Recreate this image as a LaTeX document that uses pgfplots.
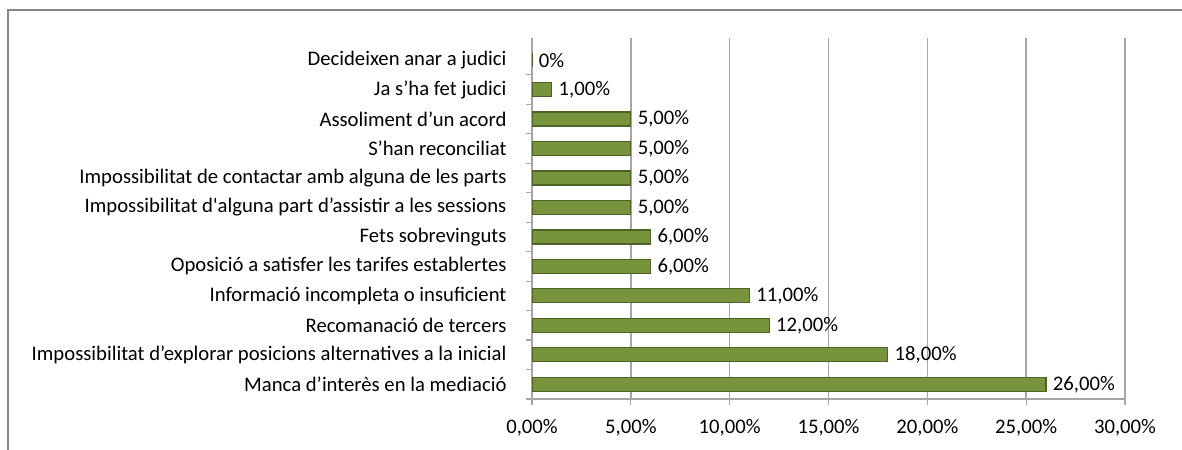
\documentclass[border=0pt]{standalone}
\usepackage{pgfplots}
\pgfplotsset{compat=1.18}
\usepackage{fontspec}
\setmainfont{Carlito}

\definecolor{bargreen}{RGB}{119,147,60}
\definecolor{bardark}{RGB}{79,98,40}
\definecolor{gridgray}{RGB}{166,166,166}
\definecolor{framegray}{RGB}{134,134,134}

\begin{document}
\begin{tikzpicture}[x=1bp,y=1bp,font=\fontsize{20.7bp}{24bp}\selectfont]
\useasboundingbox (0,0) rectangle (1182,-450);
\draw[framegray,line width=2.5bp] (8,-452) -- (8,-10) -- (1184,-10);
\begin{axis}[
    at={(532bp,-399bp)}, anchor=south west,
    scale only axis, width=593bp, height=361bp,
    xbar, bar width=14bp,
    xmin=0, xmax=30, ymin=-0.5, ymax=11.75,
    xtick={0,5,...,30},
    xticklabels={{0,00\%},{5,00\%},{10,00\%},{15,00\%},{20,00\%},{25,00\%},{30,00\%}},
    ytick={0,...,11},
    yticklabels={
        Manca d’interès en la mediació,
        Impossibilitat d’explorar posicions alternatives a la inicial,
        Recomanació de tercers,
        Informació incompleta o insuficient,
        Oposició a satisfer les tarifes establertes,
        Fets sobrevinguts,
        Impossibilitat d\textquotesingle alguna part d’assistir a les sessions,
        Impossibilitat de contactar amb alguna de les parts,
        S’han reconciliat,
        Assoliment d’un acord,
        Ja s’ha fet judici,
        Decideixen anar a judici},
    minor ytick={-0.5,0.5,...,10.5},
    every major y tick/.append style={draw=none},
    minor tick length=6bp, major tick length=6bp,
    tick align=outside,
    tick style={gridgray, line width=1.2bp},
    yticklabel style={xshift=-16bp},
    xticklabel style={yshift=-11bp},
    axis lines*=left,
    axis line style={gridgray, line width=1.2bp},
    xmajorgrids,
    grid style={gridgray, line width=1.6bp},
    point meta=explicit symbolic,
    nodes near coords={\pgfplotspointmeta},
    nodes near coords align={horizontal},
    nodes near coords style={black, anchor=west, xshift=3bp},
]
\addplot[fill=bargreen, draw=bardark, line width=1.2bp] coordinates {
    (26,0) [26,00\%]
    (18,1) [18,00\%]
    (12,2) [12,00\%]
    (11,3) [11,00\%]
    (6,4) [6,00\%]
    (6,5) [6,00\%]
    (5,6) [5,00\%]
    (5,7) [5,00\%]
    (5,8) [5,00\%]
    (5,9) [5,00\%]
    (1,10) [1,00\%]
    (0,11) [0\%]
};
\end{axis}
\end{tikzpicture}
\end{document}
